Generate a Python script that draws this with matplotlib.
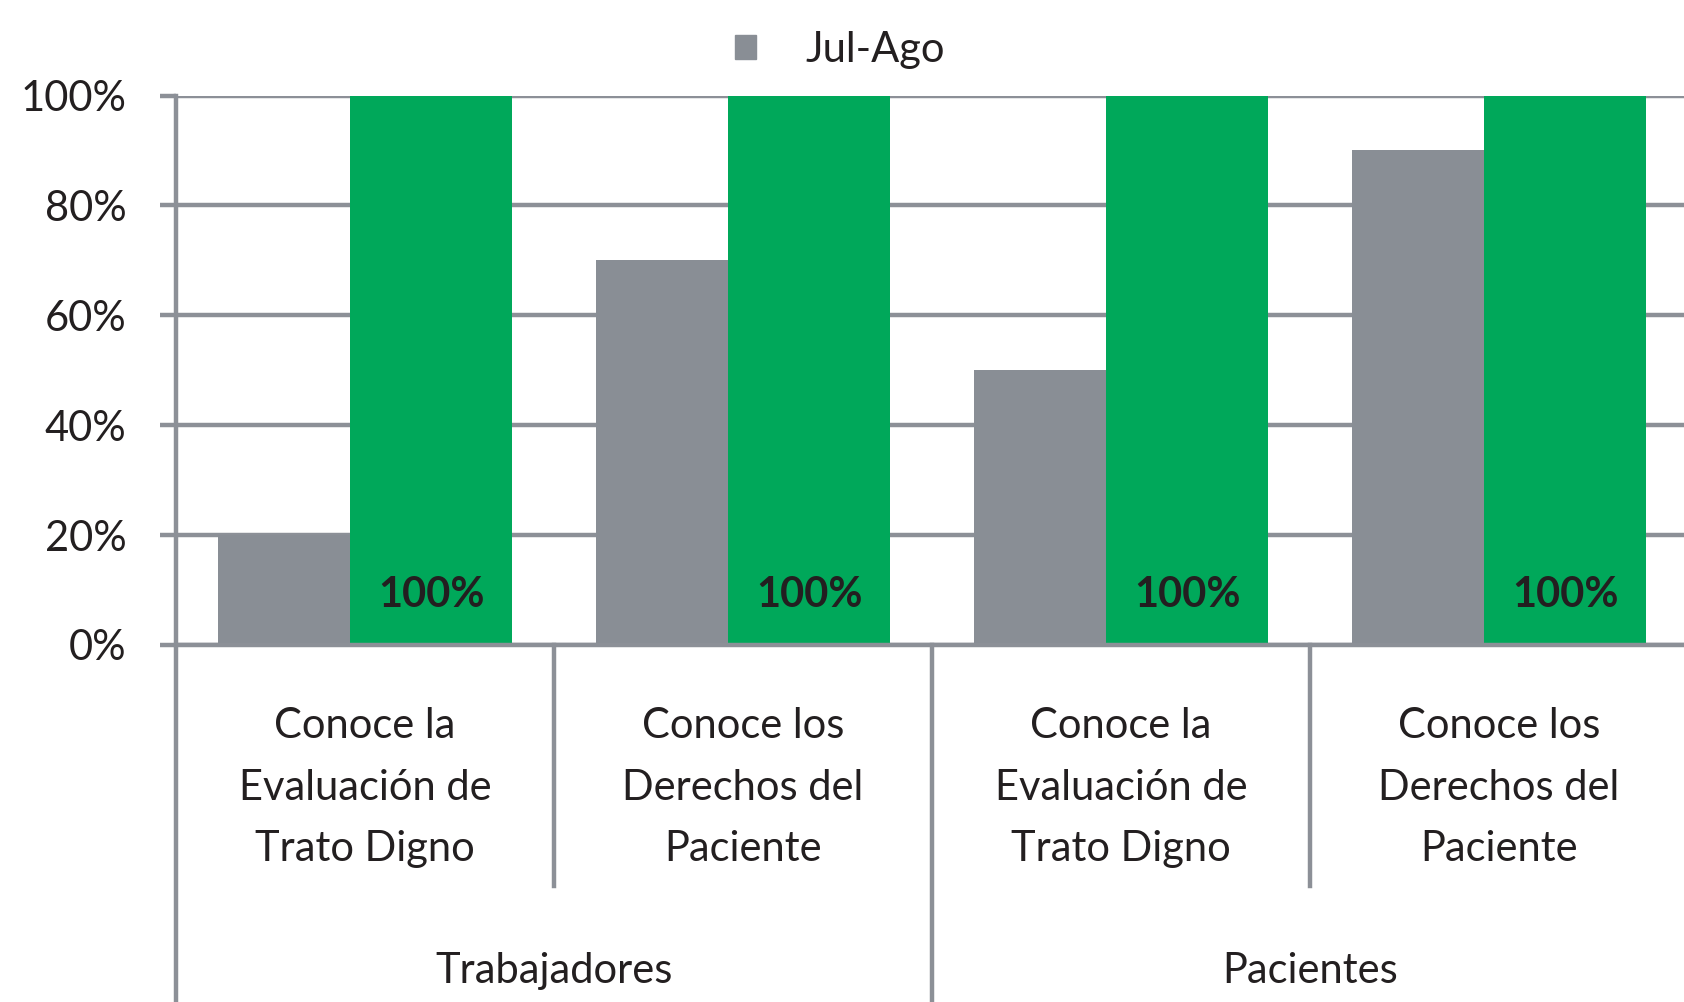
import matplotlib.pyplot as plt
from matplotlib.patches import Patch

# Data
categories = [
    "Conoce la\nEvaluación de\nTrato Digno",
    "Conoce los\nDerechos del\nPaciente",
    "Conoce la\nEvaluación de\nTrato Digno",
    "Conoce los\nDerechos del\nPaciente",
]
groups = ["Trabajadores", "Pacientes"]
jul_ago = [20, 70, 50, 90]
current = [100, 100, 100, 100]
yticks = [0, 20, 40, 60, 80, 100]

# Style
gray = '#898e95'
green = '#00a85a'
line_gray = '#8c9097'
text_color = '#231f20'
font = 'Lato'
bar_width = 0.43
offset = 0.175

plt.rcParams['font.family'] = [font, 'DejaVu Sans']

fig = plt.figure(figsize=(16.84, 10.02), dpi=100)
ax = fig.add_axes([176 / 1684, 1 - 645 / 1002, 1512 / 1684, 549.5 / 1002])

x = list(range(len(categories)))
ax.bar([i - offset for i in x], jul_ago, width=bar_width, color=gray,
       zorder=2, label='Jul-Ago')
ax.bar([i + offset for i in x], current, width=bar_width, color=green,
       zorder=3)

# Data labels inside base of green bars
for i, v in zip(x, current):
    ax.annotate(f"{v}%", (i + offset, 0), xytext=(0, 36),
                textcoords='offset points', ha='center', va='center',
                fontsize=30, fontweight='bold', color=text_color, zorder=4)

ax.set_xlim(-0.5, len(categories) - 0.5)
ax.set_ylim(0, 100)
ax.set_yticks(yticks)
ax.set_yticklabels([f"{t}%" for t in yticks], fontsize=30, color=text_color)
ax.set_xticks([])
ax.grid(axis='y', color=line_gray, linewidth=3.2, zorder=1)
ax.set_axisbelow(True)
ax.tick_params(axis='y', length=11.5, width=3.2, color=line_gray, pad=24)

for side in ['top', 'right', 'left']:
    ax.spines[side].set_visible(False)
ax.spines['bottom'].set_color(line_gray)
ax.spines['bottom'].set_linewidth(3.2)
ax.spines['bottom'].set_zorder(5)

# Category separators and outer axis line
trans = ax.get_xaxis_transform()
ax.plot([-0.5, -0.5], [1, -0.66], transform=trans, color=line_gray,
        linewidth=3.2, clip_on=False, zorder=5)
for xs in [1.5, 3.5]:
    ax.plot([xs, xs], [0, -0.66], transform=trans, color=line_gray,
            linewidth=3.2, clip_on=False, zorder=5)
for xs in [0.5, 2.5]:
    ax.plot([xs, xs], [0, -0.4386], transform=trans, color=line_gray,
            linewidth=3.2, clip_on=False, zorder=5)

# Category labels
for i, label in zip(x, categories):
    ax.text(i, -0.260, label, transform=trans, ha='center', va='center',
            fontsize=30, color=text_color, linespacing=1.76)

# Group labels
for gi, name in enumerate(groups):
    ax.text(gi * 2 + 0.5, -0.593, name, transform=trans, ha='center',
            va='center', fontsize=30, color=text_color)

# Legend (gray series only)
fig.legend(handles=[Patch(color=gray, label='Jul-Ago')], loc='center',
           bbox_to_anchor=(840 / 1684, 1 - 50 / 1002), frameon=False,
           fontsize=30, handlelength=0.5, handleheight=0.5,
           handletextpad=1.2, labelcolor=text_color)

fig.savefig('out.png', dpi=100)
